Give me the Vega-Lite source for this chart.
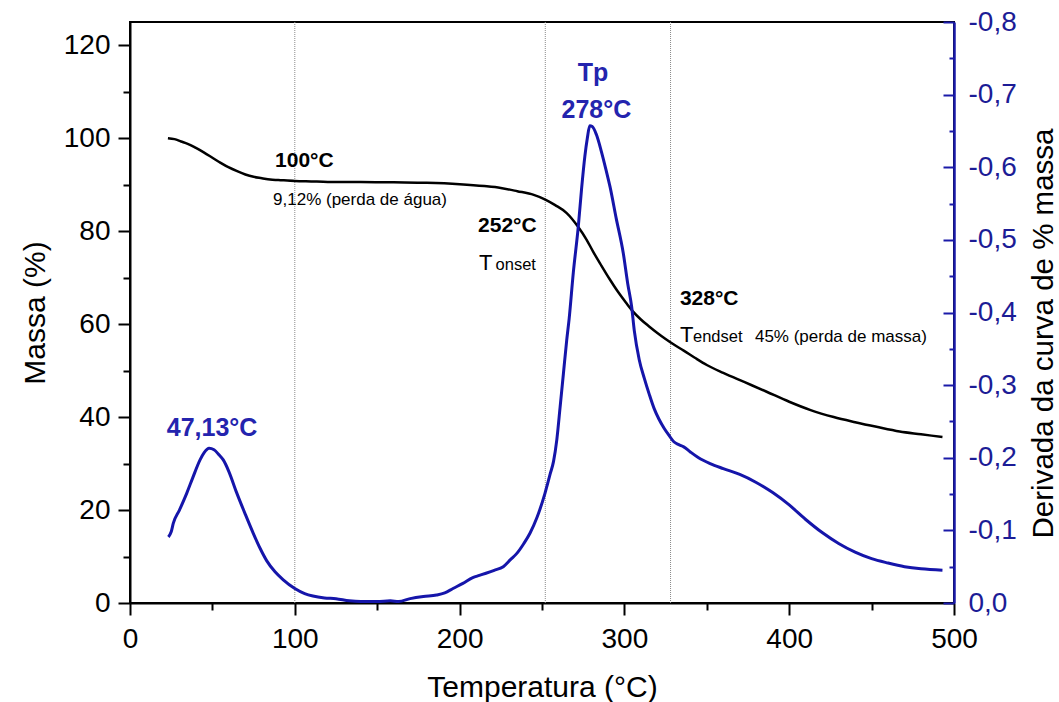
{
  "$schema": "https://vega.github.io/schema/vega-lite/v6.json",
  "width": 824,
  "height": 581,
  "autosize": {"type": "none"},
  "padding": {"left": 130, "top": 22, "right": 105, "bottom": 99},
  "background": "white",
  "config": {
    "view": {"stroke": "#000000", "strokeWidth": 2},
    "font": "Liberation Sans",
    "axis": {"labelFont": "Liberation Sans", "titleFont": "Liberation Sans", "titleFontWeight": "normal", "grid": false},
    "text": {"font": "Liberation Sans"}
  },
  "datasets": {
    "mass": [
      {"t": 23, "m": 100}, {"t": 27, "m": 99.8}, {"t": 31, "m": 99.3}, {"t": 35, "m": 98.8}, {"t": 40, "m": 97.9},
      {"t": 45, "m": 96.9}, {"t": 50, "m": 95.8}, {"t": 55, "m": 94.7}, {"t": 60, "m": 93.7}, {"t": 65, "m": 92.9},
      {"t": 70, "m": 92.2}, {"t": 75, "m": 91.7}, {"t": 80, "m": 91.4}, {"t": 85, "m": 91.1}, {"t": 90, "m": 91.0},
      {"t": 100, "m": 90.8}, {"t": 110, "m": 90.7}, {"t": 120, "m": 90.6}, {"t": 140, "m": 90.6}, {"t": 160, "m": 90.5},
      {"t": 180, "m": 90.4}, {"t": 200, "m": 90.1}, {"t": 215, "m": 89.7}, {"t": 225, "m": 89.3}, {"t": 235, "m": 88.6},
      {"t": 245, "m": 87.8}, {"t": 252, "m": 86.8}, {"t": 258, "m": 85.6}, {"t": 265, "m": 83.9}, {"t": 272, "m": 80.9},
      {"t": 277, "m": 78.2}, {"t": 281, "m": 75.6}, {"t": 286, "m": 72.6}, {"t": 291, "m": 69.7}, {"t": 296, "m": 67.0},
      {"t": 301, "m": 64.6}, {"t": 305, "m": 62.8}, {"t": 310, "m": 61.0}, {"t": 315, "m": 59.5}, {"t": 320, "m": 58.1},
      {"t": 325, "m": 56.8}, {"t": 330, "m": 55.6}, {"t": 336, "m": 54.3}, {"t": 343, "m": 52.7}, {"t": 350, "m": 51.2},
      {"t": 360, "m": 49.5}, {"t": 373, "m": 47.5}, {"t": 386, "m": 45.5}, {"t": 400, "m": 43.3}, {"t": 413, "m": 41.5},
      {"t": 427, "m": 40.0}, {"t": 440, "m": 38.9}, {"t": 453, "m": 37.9}, {"t": 467, "m": 36.9}, {"t": 480, "m": 36.3},
      {"t": 493, "m": 35.7}
    ],
    "deriv": [
      {"t": 23.3, "d": -0.091}, {"t": 25, "d": -0.098}, {"t": 26.3, "d": -0.11}, {"t": 30, "d": -0.128}, {"t": 34.4, "d": -0.151},
      {"t": 38, "d": -0.172}, {"t": 42.5, "d": -0.197}, {"t": 45, "d": -0.207}, {"t": 48, "d": -0.213}, {"t": 51, "d": -0.211},
      {"t": 54, "d": -0.204}, {"t": 56.6, "d": -0.197}, {"t": 60, "d": -0.181}, {"t": 64.7, "d": -0.152}, {"t": 70, "d": -0.122},
      {"t": 74.8, "d": -0.096}, {"t": 79, "d": -0.075}, {"t": 83, "d": -0.058}, {"t": 88, "d": -0.043}, {"t": 93, "d": -0.032},
      {"t": 100, "d": -0.02}, {"t": 106, "d": -0.013}, {"t": 111, "d": -0.0096}, {"t": 118, "d": -0.007}, {"t": 125, "d": -0.006},
      {"t": 133, "d": -0.003}, {"t": 140, "d": -0.002}, {"t": 150, "d": -0.002}, {"t": 158, "d": -0.003}, {"t": 163, "d": -0.002},
      {"t": 170, "d": -0.006}, {"t": 178, "d": -0.009}, {"t": 186, "d": -0.011}, {"t": 191, "d": -0.014}, {"t": 196, "d": -0.02},
      {"t": 202, "d": -0.027}, {"t": 208, "d": -0.035}, {"t": 212, "d": -0.038}, {"t": 216, "d": -0.041}, {"t": 221, "d": -0.045},
      {"t": 226.5, "d": -0.05}, {"t": 231, "d": -0.06}, {"t": 234.6, "d": -0.068}, {"t": 239, "d": -0.082}, {"t": 242.7, "d": -0.096},
      {"t": 247, "d": -0.118}, {"t": 251.8, "d": -0.151}, {"t": 255, "d": -0.178}, {"t": 257, "d": -0.195}, {"t": 259, "d": -0.225},
      {"t": 261, "d": -0.27}, {"t": 263, "d": -0.316}, {"t": 265, "d": -0.362}, {"t": 266.5, "d": -0.392}, {"t": 269, "d": -0.455},
      {"t": 272, "d": -0.518}, {"t": 274, "d": -0.57}, {"t": 276, "d": -0.615}, {"t": 277.5, "d": -0.64}, {"t": 279, "d": -0.657},
      {"t": 280.5, "d": -0.656}, {"t": 283, "d": -0.645}, {"t": 286, "d": -0.622}, {"t": 289, "d": -0.595}, {"t": 291.3, "d": -0.573},
      {"t": 295, "d": -0.53}, {"t": 299.3, "d": -0.482}, {"t": 302, "d": -0.44}, {"t": 304.4, "d": -0.408}, {"t": 306, "d": -0.375},
      {"t": 309, "d": -0.335}, {"t": 312, "d": -0.31}, {"t": 315, "d": -0.288}, {"t": 318, "d": -0.268}, {"t": 321, "d": -0.253},
      {"t": 324, "d": -0.241}, {"t": 327, "d": -0.231}, {"t": 330, "d": -0.222}, {"t": 333, "d": -0.218}, {"t": 336, "d": -0.215},
      {"t": 340, "d": -0.208}, {"t": 345, "d": -0.2}, {"t": 352, "d": -0.192}, {"t": 360, "d": -0.185}, {"t": 370, "d": -0.177},
      {"t": 380, "d": -0.166}, {"t": 390, "d": -0.152}, {"t": 400, "d": -0.135}, {"t": 410, "d": -0.115}, {"t": 420, "d": -0.097},
      {"t": 430, "d": -0.082}, {"t": 440, "d": -0.07}, {"t": 450, "d": -0.061}, {"t": 460, "d": -0.055}, {"t": 470, "d": -0.05},
      {"t": 480, "d": -0.047}, {"t": 493, "d": -0.045}
    ],
    "events": [{"t": 100}, {"t": 252}, {"t": 328}],
    "boldNotes": [
      {"t": 88, "m": 93.8, "label": "100°C"},
      {"t": 211.2, "m": 79.8, "label": "252°C"},
      {"t": 333.7, "m": 64.1, "label": "328°C"}
    ],
    "plainNotes": [
      {"t": 86.8, "m": 85.6, "label": "9,12% (perda de água)"},
      {"t": 379.2, "m": 56.2, "label": "45% (perda de massa)"}
    ],
    "bigT": [
      {"t": 211.8, "m": 71.6, "label": "T"},
      {"t": 333.7, "m": 56.2, "label": "T"}
    ],
    "subs": [
      {"t": 221.8, "m": 71.6, "label": "onset"},
      {"t": 341.6, "m": 56.2, "label": "endset"}
    ],
    "blueNotes": [
      {"t": 49.8, "m": 35.9, "label": "47,13°C"},
      {"t": 281, "m": 112.3, "label": "Tp"},
      {"t": 283, "m": 104.3, "label": "278°C"}
    ]
  },
  "encoding": {
    "x": {
      "field": "t",
      "type": "quantitative",
      "scale": {"domain": [0, 500], "nice": false, "zero": false},
      "axis": {
        "title": "Temperatura (°C)",
        "values": [0, 50, 100, 150, 200, 250, 300, 350, 400, 450, 500],
        "labelExpr": "datum.value % 100 === 0 ? datum.label : ''",
        "tickSize": {"condition": {"test": "datum.value % 100 !== 0", "value": 7}, "value": 12},
        "tickWidth": 2,
        "tickColor": "#000000",
        "domainColor": "#000000",
        "domainWidth": 2,
        "labelColor": "#000000",
        "labelFontSize": 28,
        "labelPadding": 10,
        "labelFlush": false,
        "titleFontSize": 30,
        "titleColor": "#000000",
        "titlePadding": 19
      }
    }
  },
  "layer": [
    {
      "data": {"name": "events"},
      "mark": {"type": "rule", "color": "#8a8a8a", "strokeWidth": 1, "strokeDash": [1, 1]},
      "encoding": {}
    },
    {
      "data": {"name": "mass"},
      "mark": {"type": "line", "color": "#000000", "strokeWidth": 2.5, "interpolate": "monotone"},
      "encoding": {
        "y": {
          "field": "m",
          "type": "quantitative",
          "scale": {"domain": [0, 125], "nice": false, "zero": false},
          "axis": {
            "title": "Massa (%)",
            "values": [0, 10, 20, 30, 40, 50, 60, 70, 80, 90, 100, 110, 120],
            "labelExpr": "datum.value % 20 === 0 ? datum.label : ''",
            "tickSize": {"condition": {"test": "datum.value % 20 !== 0", "value": 7}, "value": 12},
            "tickWidth": 2,
            "tickColor": "#000000",
            "domainColor": "#000000",
            "domainWidth": 2,
            "labelColor": "#000000",
            "labelFontSize": 28,
            "labelPadding": 8,
            "titleFontSize": 30,
            "titleColor": "#000000",
            "titlePadding": 13
          }
        }
      }
    },
    {
      "data": {"name": "deriv"},
      "mark": {"type": "line", "color": "#1515aa", "strokeWidth": 3, "interpolate": "monotone"},
      "encoding": {
        "y": {
          "field": "d",
          "type": "quantitative",
          "scale": {"domain": [0, -0.8], "nice": false, "zero": false},
          "axis": {
            "orient": "right",
            "title": "Derivada da curva de % massa",
            "values": [0, -0.05, -0.1, -0.15, -0.2, -0.25, -0.3, -0.35, -0.4, -0.45, -0.5, -0.55, -0.6, -0.65, -0.7, -0.75, -0.8],
            "labelExpr": "abs(round(datum.value * 100)) % 10 === 0 ? (datum.value < 0 ? '-' : '') + replace(format(abs(datum.value), '.1f'), '.', ',') : ''",
            "tickSize": {"condition": {"test": "abs(round(datum.value * 100)) % 10 !== 0", "value": -5}, "value": -11},
            "tickWidth": 2,
            "tickColor": "#1a1aa8",
            "domainColor": "#1a1aa8",
            "domainWidth": 2.5,
            "labelColor": "#1c1c96",
            "labelFontSize": 28,
            "labelPadding": 25,
            "labelFlush": false,
            "titleFontSize": 29.5,
            "titleColor": "#000000",
            "titleAngle": 270,
            "titleBaseline": "top",
            "titlePadding": 13,
            "titleY": 311
          }
        }
      }
    },
    {
      "data": {"name": "boldNotes"},
      "mark": {"type": "text", "align": "left", "baseline": "alphabetic", "fontSize": 21, "fontWeight": "bold", "color": "#000000"},
      "encoding": {
        "y": {"field": "m", "type": "quantitative", "scale": {"domain": [0, 125], "nice": false, "zero": false}, "axis": null},
        "text": {"field": "label"}
      }
    },
    {
      "data": {"name": "plainNotes"},
      "mark": {"type": "text", "align": "left", "baseline": "alphabetic", "fontSize": 17, "color": "#000000"},
      "encoding": {
        "y": {"field": "m", "type": "quantitative", "scale": {"domain": [0, 125], "nice": false, "zero": false}, "axis": null},
        "text": {"field": "label"}
      }
    },
    {
      "data": {"name": "bigT"},
      "mark": {"type": "text", "align": "left", "baseline": "alphabetic", "fontSize": 22, "color": "#000000"},
      "encoding": {
        "y": {"field": "m", "type": "quantitative", "scale": {"domain": [0, 125], "nice": false, "zero": false}, "axis": null},
        "text": {"field": "label"}
      }
    },
    {
      "data": {"name": "subs"},
      "mark": {"type": "text", "align": "left", "baseline": "alphabetic", "fontSize": 16.5, "color": "#000000"},
      "encoding": {
        "y": {"field": "m", "type": "quantitative", "scale": {"domain": [0, 125], "nice": false, "zero": false}, "axis": null},
        "text": {"field": "label"}
      }
    },
    {
      "data": {"name": "blueNotes"},
      "mark": {"type": "text", "align": "center", "baseline": "alphabetic", "fontSize": 25, "fontWeight": "bold", "color": "#2424ae"},
      "encoding": {
        "y": {"field": "m", "type": "quantitative", "scale": {"domain": [0, 125], "nice": false, "zero": false}, "axis": null},
        "text": {"field": "label"}
      }
    }
  ],
  "resolve": {"scale": {"y": "independent"}}
}
